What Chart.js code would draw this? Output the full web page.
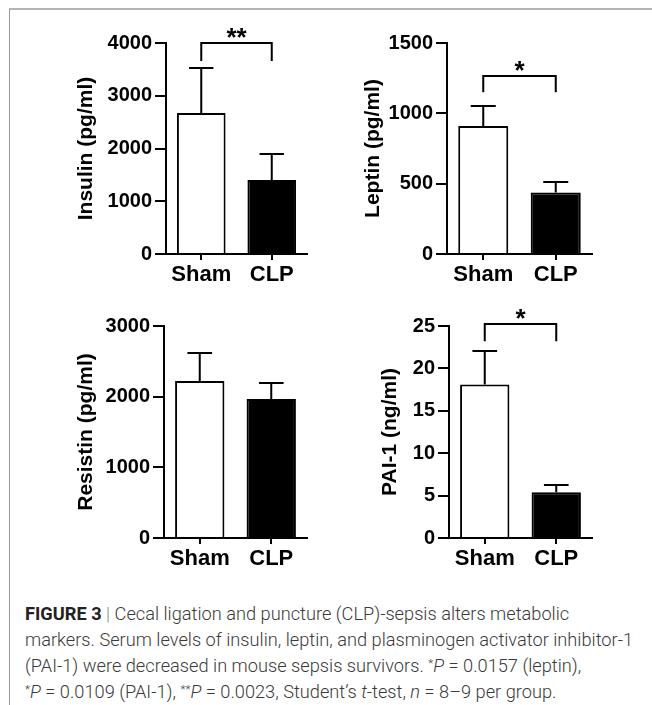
<!DOCTYPE html>
<html>
<head>
<meta charset="utf-8">
<script src="https://cdn.jsdelivr.net/npm/chart.js@4.4.1/dist/chart.umd.min.js"></script>
<style>
  body { margin: 0; background: #fff; width: 652px; height: 705px; overflow: hidden; position: relative; }
  .frame { position: absolute; left: 9px; top: 8px; width: 643px; height: 697px;
           border-top: 2px solid #b4b4b4; border-left: 1px solid #9a9a9a; box-sizing: border-box; }
  .panel { position: absolute; width: 326px; height: 290px; }
  .caption { position: absolute; left: 25px; top: 601px; font-family: Roboto, "Liberation Sans", sans-serif;
             font-weight: 300; font-size: 18px; line-height: 26px; color: #3a3a3a; white-space: nowrap;
             transform-origin: 0 0; }
  .caption b { font-weight: 700; color: #222; }
  .caption .bar { color: #888; }
  .caption sup { font-size: 0.65em; vertical-align: 0.45em; line-height: 0; }
</style>
</head>
<body>
<div class="frame"></div>
<div class="panel" style="left:0;top:0"><canvas id="insulin" width="326" height="290"></canvas></div>
<div class="panel" style="left:326px;top:0"><canvas id="leptin" width="326" height="290"></canvas></div>
<div class="panel" style="left:0;top:290px"><canvas id="resistin" width="326" height="290"></canvas></div>
<div class="panel" style="left:326px;top:290px"><canvas id="pai1" width="326" height="290"></canvas></div>
<div class="caption" id="caption">
  <div><b>FIGURE 3</b> <span class="bar">|</span> Cecal ligation and puncture (CLP)-sepsis alters metabolic</div>
  <div id="capLine2">markers. Serum levels of insulin, leptin, and plasminogen activator inhibitor-1</div>
  <div>(PAI-1) were decreased in mouse sepsis survivors. <sup>*</sup><i>P</i> = 0.0157 (leptin),</div>
  <div><sup>*</sup><i>P</i> = 0.0109 (PAI-1), <sup>**</sup><i>P</i> = 0.0023, Student’s <i>t</i>-test, <i>n</i> = 8–9 per group.</div>
</div>
<script>
// groups on the x axis
const groups = ['Sham', 'CLP'];

// means and SEM
const insulinMean = [2673, 1403];
const insulinSem = [859, 487];
const leptinMean = [910, 438];
const leptinSem = [142, 76];
const resistinMean = [2223, 1968];
const resistinSem = [391, 222];
const pai1Mean = [18.1, 5.4];
const pai1Sem = [4.0, 0.9];

// y axis ranges
const insulinMax = 4000, insulinStep = 1000;
const leptinMax = 1500, leptinStep = 500;
const resistinMax = 3000, resistinStep = 1000;
const pai1Max = 25, pai1Step = 5;

// significance brackets: [line value, end value, label]
const insulinSig = [4000, 3660, '**'];
const leptinSig = [1265, 1150, '*'];
const pai1Sig = [25.2, 23.2, '*'];

const barFill = ['#ffffff', '#000000'];
const fontFamily = '"Liberation Sans", Arial, sans-serif';

const errorBarPlugin = {
    id: 'errorBars',
    afterDatasetsDraw(chart, args, opts) {
        const {ctx, scales: {y}} = chart;
        const meta = chart.getDatasetMeta(0);
        ctx.save();
        ctx.strokeStyle = '#000';
        ctx.lineWidth = 2;
        meta.data.forEach((bar, i) => {
            const yBar = y.getPixelForValue(opts.mean[i]);
            const yTop = Math.round(y.getPixelForValue(opts.mean[i] + opts.sem[i]));
            const half = bar.width / 4;
            ctx.beginPath();
            ctx.moveTo(bar.x, yBar);
            ctx.lineTo(bar.x, yTop);
            ctx.moveTo(bar.x - half, yTop);
            ctx.lineTo(bar.x + half, yTop);
            ctx.stroke();
        });
        if (opts.sig) {
            const x0 = meta.data[0].x, x1 = meta.data[1].x;
            const yLine = Math.round(y.getPixelForValue(opts.sig[0]));
            const yEnd = y.getPixelForValue(opts.sig[1]);
            ctx.beginPath();
            ctx.moveTo(x0, yEnd);
            ctx.lineTo(x0, yLine);
            ctx.lineTo(x1, yLine);
            ctx.lineTo(x1, yEnd);
            ctx.stroke();
            ctx.fillStyle = '#000';
            ctx.font = 'bold 26px ' + fontFamily;
            ctx.textAlign = 'center';
            ctx.textBaseline = 'alphabetic';
            ctx.fillText(opts.sig[2], (x0 + x1) / 2, yLine + 2.5);
        }
        ctx.restore();
    }
};

function buildChart(id, cfg) {
    return new Chart(document.getElementById(id), {
        type: 'bar',
        data: {
            labels: groups,
            datasets: [{
                data: cfg.mean,
                backgroundColor: barFill,
                borderColor: '#000',
                borderWidth: 2,
                barPercentage: 0.69,
                categoryPercentage: 1
            }]
        },
        options: {
            responsive: false,
            animation: false,
            layout: { padding: cfg.pad },
            plugins: {
                legend: { display: false },
                tooltip: { enabled: false },
                errorBars: { mean: cfg.mean, sem: cfg.sem, sig: cfg.sig }
            },
            scales: {
                x: {
                    offset: true,
                    grid: { display: true, offset: false, drawOnChartArea: false, drawTicks: true,
                            tickLength: 6, color: '#000', lineWidth: 2 },
                    border: { display: true, color: '#000', width: 2 },
                    ticks: { color: '#000', padding: 2, font: { family: fontFamily, size: 22, weight: 'bold' } },
                    afterFit: s => { s.height = 36; }
                },
                y: {
                    min: 0,
                    max: cfg.max,
                    grid: { display: true, drawOnChartArea: false, drawTicks: true,
                            tickLength: 11, color: '#000', lineWidth: 2 },
                    border: { display: true, color: '#000', width: 2 },
                    ticks: { stepSize: cfg.step, color: '#000', padding: 3,
                             callback: v => String(v),
                             font: { family: fontFamily, size: 20, weight: 'bold' } },
                    title: { display: true, text: cfg.title, color: '#000',
                             font: { family: fontFamily, size: 21, weight: 'bold' },
                             padding: { top: cfg.titlePad, bottom: 0 } },
                    afterFit: s => { s.width = cfg.axisW; }
                }
            }
        },
        plugins: [errorBarPlugin]
    });
}

buildChart('insulin', { mean: insulinMean, sem: insulinSem, max: insulinMax, step: insulinStep, sig: insulinSig,
    title: 'Insulin (pg/ml)', axisW: 166, titlePad: 74, pad: { top: 43, right: 19, bottom: 0, left: 0 } });
buildChart('leptin', { mean: leptinMean, sem: leptinSem, max: leptinMax, step: leptinStep, sig: leptinSig,
    title: 'Leptin (pg/ml)', axisW: 121, titlePad: 35, pad: { top: 43, right: 60, bottom: 0, left: 0 } });
buildChart('resistin', { mean: resistinMean, sem: resistinSem, max: resistinMax, step: resistinStep, sig: null,
    title: 'Resistin (pg/ml)', axisW: 164, titlePad: 74, pad: { top: 36, right: 19, bottom: 6, left: 0 } });
buildChart('pai1', { mean: pai1Mean, sem: pai1Sem, max: pai1Max, step: pai1Step, sig: pai1Sig,
    title: 'PAI-1 (ng/ml)', axisW: 123, titlePad: 52, pad: { top: 36, right: 60, bottom: 6, left: 0 } });

// squeeze caption to the narrow face of the original
const cap = document.getElementById('caption');
const range = document.createRange();
range.selectNodeContents(document.getElementById('capLine2'));
const textW = range.getBoundingClientRect().width;
cap.style.transform = 'scaleX(' + (608 / textW) + ')';
</script>
</body>
</html>
